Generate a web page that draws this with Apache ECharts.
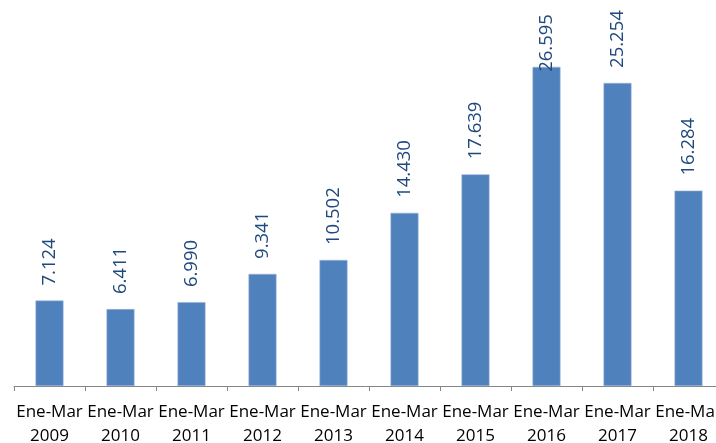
<!DOCTYPE html>
<html><head><meta charset="utf-8">
<script src="https://cdn.jsdelivr.net/npm/echarts@6/dist/echarts.min.js"></script>
<style>html,body{margin:0;padding:0;background:#fff}#c{width:716px;height:443px}</style>
</head><body><div id="c"></div>
<script>
const categories = ["Ene-Mar\n2009","Ene-Mar\n2010","Ene-Mar\n2011","Ene-Mar\n2012","Ene-Mar\n2013","Ene-Mar\n2014","Ene-Mar\n2015","Ene-Mar\n2016","Ene-Mar\n2017","Ene-Mar\n2018"];
const values = [7.124, 6.411, 6.990, 9.341, 10.502, 14.430, 17.639, 26.595, 25.254, 16.284];
const yMin = 0, yMax = 30;

const chart = echarts.init(document.getElementById('c'), null, {renderer:'canvas'});
const fmt = v => v.toFixed(3);
chart.setOption({
  animation:false,
  grid:{left:14, top:26, width:710, height:360, containLabel:false, outerBoundsMode:'none'},
  xAxis:{type:'category', data:categories, boundaryGap:true,
    axisLine:{lineStyle:{color:'#868686', width:1}},
    axisTick:{show:true, alignWithLabel:false, length:5, lineStyle:{color:'#868686', width:1}},
    axisLabel:{interval:0, color:'#000', fontFamily:'Open Sans', fontSize:17, lineHeight:24, margin:14, hideOverlap:false}
  },
  yAxis:{type:'value', min:yMin, max:yMax, show:false, splitLine:{show:false}},
  series:[{type:'bar', data:values.map((v,i)=> i===values.indexOf(Math.max(...values)) ? {value:v, label:{distance:-5}} : v),
    barWidth:28,
    itemStyle:{color:'#4F81BD', borderColor:'#9db5d6', borderWidth:0.6},
    label:{show:true, position:'top', rotate:90, align:'left', verticalAlign:'middle', distance:15,
      color:'#1F497D', fontFamily:'Open Sans', fontSize:18.5, formatter:p=>fmt(p.value)}
  }]
});
</script></body></html>
